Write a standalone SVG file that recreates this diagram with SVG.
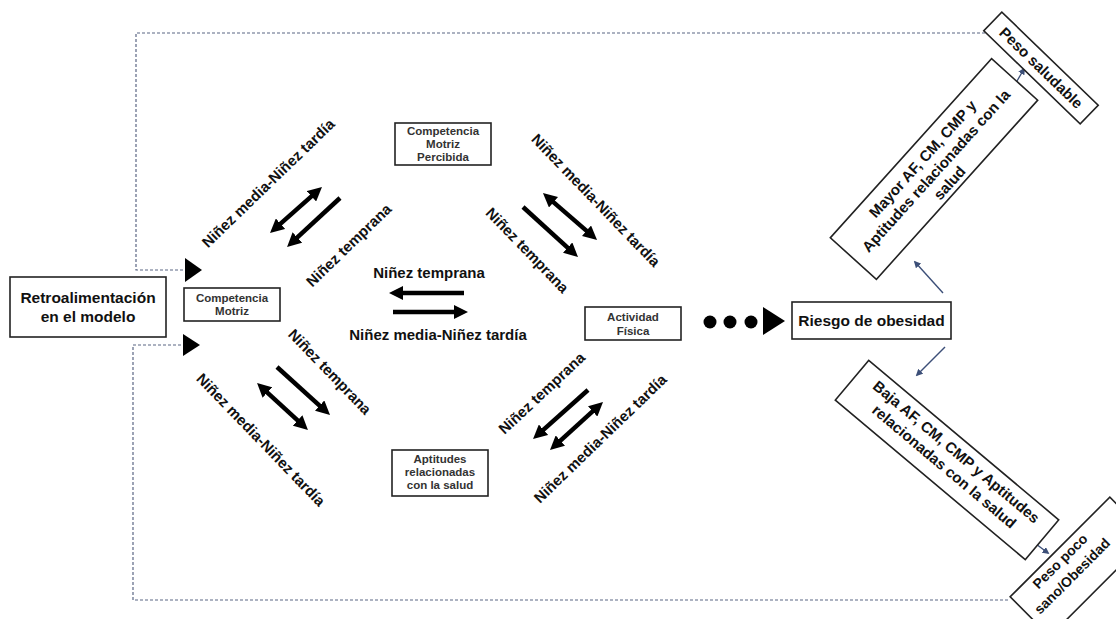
<svg xmlns="http://www.w3.org/2000/svg" width="1116" height="619" viewBox="0 0 1116 619">
<style>
.box{fill:#fff;stroke:#222;stroke-width:1.6}
.sm{font-family:"Liberation Sans",Arial,sans-serif;font-weight:bold;font-size:11.5px;fill:#333;text-anchor:middle}
.lb{font-family:"Liberation Sans",Arial,sans-serif;font-weight:bold;font-size:15px;fill:#111;text-anchor:middle}
.dg{font-family:"Liberation Sans",Arial,sans-serif;font-weight:bold;font-size:15px;fill:#111;text-anchor:middle;dominant-baseline:central}
.thick{stroke:#000;stroke-width:4.5;fill:none}
.dash{stroke:#5a6684;stroke-width:1.2;fill:none;stroke-dasharray:3 2}
.blue{stroke:#3c4f78;stroke-width:1.4;fill:none}
</style>
<defs>
<marker id="ah" viewBox="0 0 14 14" refX="4" refY="7" markerWidth="14" markerHeight="14" markerUnits="userSpaceOnUse" orient="auto-start-reverse"><path d="M0,0 L14,7 L0,14 z" fill="#000"/></marker>
<marker id="bh" viewBox="0 0 8 8" refX="6" refY="4" markerWidth="7" markerHeight="7" markerUnits="userSpaceOnUse" orient="auto"><path d="M0,0 L8,4 L0,8 z" fill="#3c4f78"/></marker>
</defs>
<rect width="1116" height="619" fill="#fff"/>

<g id="connectors">
<path class="dash" d="M985,33 H136 V270 H186"/>
<polygon points="185,258 202,270 185,282" fill="#000"/>
<path class="dash" d="M1008,600 H133 V345 H184"/>
<polygon points="183,334 200,345 183,356" fill="#000"/>
<line class="thick" x1="277.5" y1="226.4" x2="314.5" y2="193.6" marker-start="url(#ah)" marker-end="url(#ah)"/>
<line class="thick" x1="340" y1="198" x2="294.4" y2="240.2" marker-end="url(#ah)"/>
<line class="thick" x1="277" y1="367" x2="322.6" y2="408.3" marker-end="url(#ah)"/>
<line class="thick" x1="264.4" y1="389.8" x2="300.6" y2="423.2" marker-start="url(#ah)" marker-end="url(#ah)"/>
<line class="thick" x1="523" y1="207" x2="570.6" y2="250.3" marker-end="url(#ah)"/>
<line class="thick" x1="550.5" y1="199.6" x2="589.5" y2="233.4" marker-start="url(#ah)" marker-end="url(#ah)"/>
<line class="thick" x1="588" y1="390" x2="540.5" y2="432.4" marker-end="url(#ah)"/>
<line class="thick" x1="557.4" y1="443.3" x2="595.6" y2="408.7" marker-start="url(#ah)" marker-end="url(#ah)"/>
<line class="thick" x1="464" y1="293" x2="399" y2="293" marker-end="url(#ah)"/>
<line class="thick" x1="393" y1="312" x2="458" y2="312" marker-end="url(#ah)"/>
<circle cx="710" cy="322" r="6.5" fill="#000"/>
<circle cx="730" cy="322" r="6.5" fill="#000"/>
<circle cx="751" cy="322" r="6.5" fill="#000"/>
<polygon points="763,307 785,321 763,335" fill="#000"/>
<line class="blue" x1="943" y1="293" x2="915" y2="262" marker-end="url(#bh)"/>
<line class="blue" x1="1017" y1="81" x2="1024" y2="69" marker-end="url(#bh)"/>
<line class="blue" x1="945" y1="347" x2="917" y2="375" marker-end="url(#bh)"/>
<line class="blue" x1="1036" y1="544" x2="1048" y2="553" marker-end="url(#bh)"/>
</g>

<g id="labels">
<text class="dg" transform="translate(268,183) rotate(-44)">Niñez media-Niñez tardía</text>
<text class="dg" transform="translate(348.5,245) rotate(-44)">Niñez temprana</text>
<text class="dg" transform="translate(330,371.5) rotate(46)">Niñez temprana</text>
<text class="dg" transform="translate(261,439.5) rotate(46)">Niñez media-Niñez tardía</text>
<text class="dg" transform="translate(596,200) rotate(46)">Niñez media-Niñez tardía</text>
<text class="dg" transform="translate(527.5,250) rotate(46)">Niñez temprana</text>
<text class="dg" transform="translate(541.5,393) rotate(-43)">Niñez temprana</text>
<text class="dg" transform="translate(600,438.5) rotate(-44)">Niñez media-Niñez tardía</text>
<text class="lb" x="429" y="278">Niñez temprana</text>
<text class="lb" x="438" y="340">Niñez media-Niñez tardía</text>
</g>

<g id="retro">
<rect class="box" x="10" y="277" width="156" height="60"/>
<text class="lb" x="88" y="303" style="font-size:15.5px">Retroalimentación</text>
<text class="lb" x="88" y="322" style="font-size:15.5px">en el modelo</text>
</g>

<g id="cm">
<rect class="box" x="184" y="288" width="96" height="33"/>
<text class="sm" x="232" y="302">Competencia</text>
<text class="sm" x="232" y="315">Motriz</text>
</g>

<g id="cmp">
<rect class="box" x="395" y="123" width="96" height="42"/>
<text class="sm" x="443" y="135">Competencia</text>
<text class="sm" x="443" y="148">Motriz</text>
<text class="sm" x="443" y="161">Percibida</text>
</g>

<g id="af">
<rect class="box" x="585" y="307" width="96" height="33"/>
<text class="sm" x="633" y="321">Actividad</text>
<text class="sm" x="633" y="335">Física</text>
</g>

<g id="apt">
<rect class="box" x="392" y="450" width="96" height="46"/>
<text class="sm" x="440" y="463">Aptitudes</text>
<text class="sm" x="440" y="476">relacionadas</text>
<text class="sm" x="440" y="489">con la salud</text>
</g>

<g id="riesgo">
<rect class="box" x="792" y="302" width="159" height="37"/>
<text class="lb" x="871.5" y="326" style="font-size:15.5px">Riesgo de obesidad</text>
</g>

<g id="mayor" transform="translate(934,169) rotate(-48)">
<rect class="box" x="-120.5" y="-31" width="241" height="62"/>
<text class="lb" x="0" y="-10">Mayor AF, CM, CMP y</text>
<text class="lb" x="0" y="8">Aptitudes relacionadas con la</text>
<text class="lb" x="0" y="26">salud</text>
</g>

<g id="pesosaludable" transform="translate(1041,68) rotate(44)">
<rect class="box" x="-67" y="-13" width="134" height="26"/>
<text class="lb" x="0" y="5">Peso saludable</text>
</g>

<g id="baja" transform="translate(947,460) rotate(40)">
<rect class="box" x="-124" y="-26" width="248" height="52"/>
<text class="lb" x="2" y="-7">Baja AF, CM, CMP y Aptitudes</text>
<text class="lb" x="2" y="12">relacionadas con la salud</text>
</g>

<g id="pesopoco" transform="translate(1060,547) rotate(-45)">
<rect class="box" x="-70.5" y="0" width="141" height="56"/>
<text class="lb" x="-10" y="15" style="font-size:14px">Peso poco</text>
<text class="lb" x="-12" y="34" style="font-size:14px">sano/Obesidad</text>
</g>
</svg>
